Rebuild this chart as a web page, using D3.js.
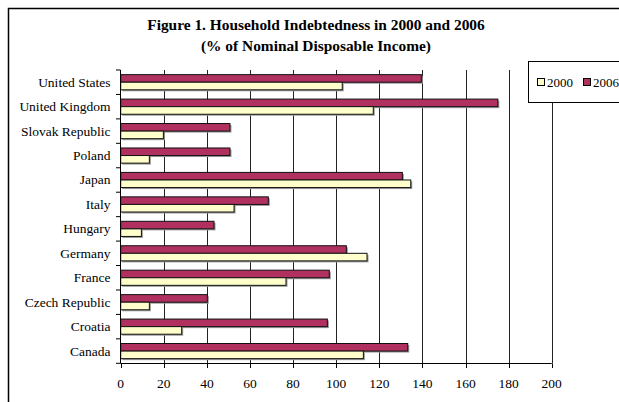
<!DOCTYPE html>
<html>
<head>
<meta charset="utf-8">
<script src="https://cdn.jsdelivr.net/npm/d3@7"></script>
<style>
html,body{margin:0;padding:0;background:#fff;}
svg{display:block;}
text{font-family:"Liberation Serif","Times New Roman",serif;fill:#000;}
</style>
</head>
<body>
<svg id="chart" width="619" height="402"></svg>
<script>
const categories = ["United States","United Kingdom","Slovak Republic","Poland","Japan","Italy","Hungary","Germany","France","Czech Republic","Croatia","Canada"];
const values2006 = [139.5,175,50.7,50.7,130.7,68.5,43.3,104.7,96.8,40.2,95.9,133.2];
const values2000 = [102.8,117.2,19.8,13.3,134.6,52.6,9.6,114.3,76.7,13.3,28.3,112.6];
const seriesNames = ["2000","2006"];
const xTicks = [0,20,40,60,80,100,120,140,160,180,200];
const titleLines = ["Figure 1. Household Indebtedness in 2000 and 2006","(% of Nominal Disposable Income)"];

const colors = {"2000":"#FFFFCC","2006":"#B03060"};
const svg = d3.select("#chart");

// outer frame
svg.append("rect").attr("x",8.5).attr("y",8.5).attr("width",700).attr("height",500)
  .attr("fill","#fff").attr("stroke","#000").attr("stroke-width",1.5);

const x = d3.scaleLinear().domain([0,200]).range([120.7,551.7]);
const y = d3.scaleBand().domain(categories).range([70,363.3]).paddingInner(0.38).paddingOuter(0.19);
const sub = d3.scaleBand().domain(["2006","2000"]).range([0,y.bandwidth()]);

// gridlines
svg.append("g").selectAll("line").data(xTicks.slice(1)).join("line")
  .attr("x1",d=>Math.round(x(d))+0.5).attr("x2",d=>Math.round(x(d))+0.5)
  .attr("y1",70).attr("y2",363.3).attr("stroke","#222").attr("stroke-width",1);

// bars
const rows = categories.map((c,i)=>({c, "2006":values2006[i], "2000":values2000[i]}));
const barG = svg.append("g");
["2006","2000"].forEach(s=>{
  barG.selectAll(null).data(rows).join("rect")
    .attr("x",x(0)+1.5).attr("y",d=>y(d.c)+sub(s)+1.5)
    .attr("width",d=>x(d[s])-x(0)).attr("height",sub.bandwidth())
    .attr("fill","#999");
  barG.selectAll(null).data(rows).join("rect")
    .attr("x",x(0)).attr("y",d=>y(d.c)+sub(s))
    .attr("width",d=>x(d[s])-x(0)).attr("height",sub.bandwidth())
    .attr("fill",colors[s]).attr("stroke","#111").attr("stroke-width",1);
});

// y axis
const step = y.step();
svg.append("line").attr("x1",120.5).attr("x2",120.5).attr("y1",70).attr("y2",363.3)
  .attr("stroke","#000");
svg.append("g").selectAll("line").data(d3.range(categories.length+1)).join("line")
  .attr("x1",116).attr("x2",120.5)
  .attr("y1",i=>70+i*step).attr("y2",i=>70+i*step).attr("stroke","#000");
svg.append("g").selectAll("text").data(categories).join("text")
  .attr("x",110.5).attr("y",d=>y(d)+y.bandwidth()/2+4.5)
  .attr("text-anchor","end").attr("font-size","13.5px").text(d=>d);

// x axis
svg.append("line").attr("x1",120.5).attr("x2",x(200)).attr("y1",363.5).attr("y2",363.5)
  .attr("stroke","#000");
svg.append("g").selectAll("line").data(xTicks).join("line")
  .attr("x1",d=>Math.round(x(d))+0.5).attr("x2",d=>Math.round(x(d))+0.5)
  .attr("y1",363.5).attr("y2",368).attr("stroke","#000");
svg.append("g").selectAll("text").data(xTicks).join("text")
  .attr("x",d=>x(d)).attr("y",388).attr("text-anchor","middle")
  .attr("font-size","13.5px").text(d=>d);

// title
svg.append("g").selectAll("text").data(titleLines).join("text")
  .attr("x",316).attr("y",(d,i)=>29.5+i*21).attr("text-anchor","middle")
  .attr("font-size","15.4px").attr("font-weight","bold").text(d=>d);

// legend
svg.append("rect").attr("x",528.5).attr("y",61.5).attr("width",120).attr("height",41)
  .attr("fill","#fff").attr("stroke","#000");
const lg = svg.append("g").selectAll("g").data(seriesNames).join("g")
  .attr("transform",(d,i)=>`translate(${537+i*46},0)`);
lg.append("rect").attr("x",0.5).attr("y",78.5).attr("width",7).attr("height",7)
  .attr("fill",d=>colors[d]).attr("stroke","#000");
lg.append("text").attr("x",10).attr("y",86.5).attr("font-size","13px").text(d=>d);
</script>
</body>
</html>
